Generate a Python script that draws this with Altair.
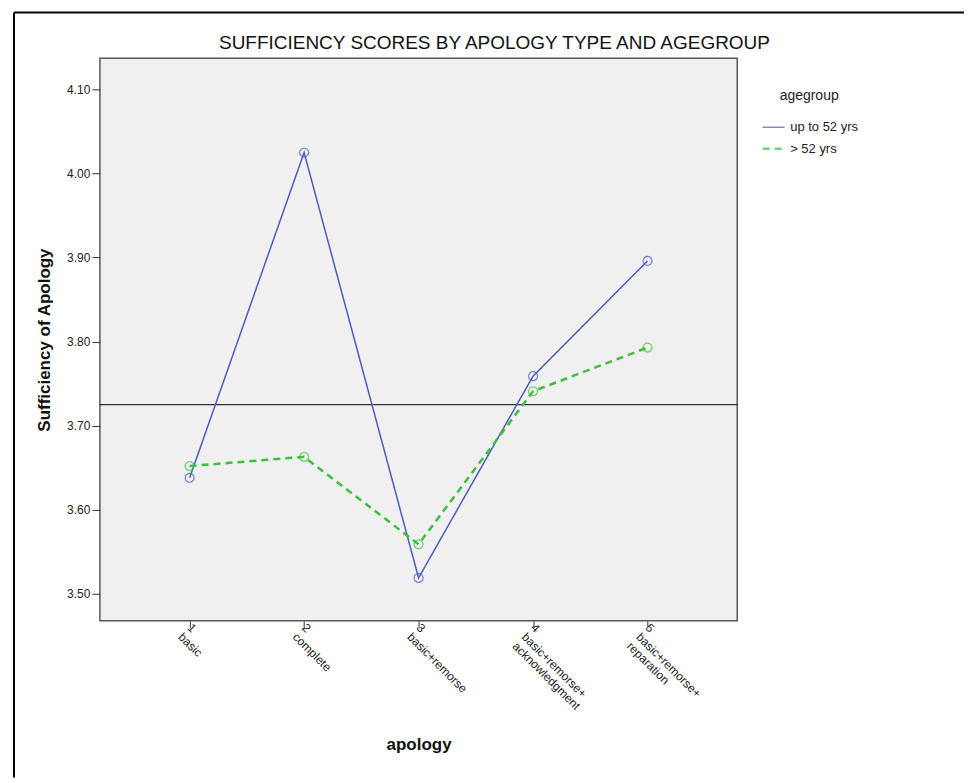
import altair as alt
import pandas as pd

categories = ["1|basic", "2|complete", "3|basic+remorse",
              "4|basic+remorse+|acknowledgment", "5|basic+remorse+|reparation"]
groups = ["up to 52 yrs", "> 52 yrs"]
up_to_52 = [3.638, 4.025, 3.519, 3.759, 3.896]
over_52 = [3.652, 3.663, 3.559, 3.741, 3.793]
grand_mean = 3.725
y_ticks = [3.5, 3.6, 3.7, 3.8, 3.9, 4.0, 4.1]

rows = []
for g, vals in zip(groups, [up_to_52, over_52]):
    for c, v in zip(categories, vals):
        rows.append({"apology": c, "agegroup": g, "score": v})
df = pd.DataFrame(rows)

FONT = "Liberation Sans"
colors = ["#4a5cc0", "#3dbf3d"]
LEG_TITLE = "agegroup"

x = alt.X("apology:N", sort=categories,
          scale=alt.Scale(padding=0.784),
          axis=alt.Axis(title="apology", labelAngle=45, labelAlign="left",
                        labelBaseline="top", labelExpr="split(datum.label, '|')",
                        labelFontSize=12, labelColor="#222", labelLineHeight=13,
                        tickSize=7, tickColor="#333", labelPadding=-6, labelOffset=3,
                        labelOverlap=False, labelBound=False, labelLimit=300,
                        domain=False, titleFontSize=17, titleFontWeight="bold",
                        titleColor="#111", titleY=129, titleBaseline="alphabetic"))
y = alt.Y("score:Q",
          scale=alt.Scale(domain=[3.468, 4.137], nice=False, zero=False),
          axis=alt.Axis(title="Sufficiency of Apology", values=y_ticks, format=".2f",
                        labelFontSize=12, labelColor="#222", tickSize=8, tickColor="#333",
                        labelPadding=2, domain=False, grid=False,
                        titleFontSize=17, titleFontWeight="bold", titleColor="#111",
                        titlePadding=13))

color = alt.Color("agegroup:N", scale=alt.Scale(domain=groups, range=colors),
                  legend=alt.Legend(title=LEG_TITLE, orient="none",
                                    legendX=662, legendY=31, padding=0,
                                    symbolType="stroke", symbolSize=484,
                                    titleFontSize=14, titleFontWeight="normal",
                                    titleColor="#222", titlePadding=12,
                                    titleAnchor="middle",
                                    labelFontSize=13, labelColor="#222", labelOffset=4,
                                    rowPadding=2))
dash = alt.StrokeDash("agegroup:N", scale=alt.Scale(domain=groups, range=[[1, 0], [7, 5]]),
                      legend=alt.Legend(title=LEG_TITLE))
swidth = alt.StrokeWidth("agegroup:N", scale=alt.Scale(domain=groups, range=[1.5, 2.5]),
                         legend=alt.Legend(title=LEG_TITLE))

base = alt.Chart(df)
lines = base.mark_line().encode(x=x, y=y, color=color, strokeDash=dash, strokeWidth=swidth)
points = base.mark_point(filled=False, shape="circle", size=80, strokeWidth=1.3).encode(
    x=x, y=y, color=alt.Color("agegroup:N", scale=alt.Scale(domain=groups, range=colors)))

mean_rule = alt.Chart(pd.DataFrame({"m": [grand_mean]})).mark_rule(
    color="black", strokeWidth=1).encode(y="m:Q")

frame_v = alt.Chart(pd.DataFrame({"k": [0]})).mark_rule(color="black", strokeWidth=2).encode(
    x=alt.value(-86), y=alt.value(-46), y2=alt.value(720))
frame_h = alt.Chart(pd.DataFrame({"k": [0]})).mark_rule(color="black", strokeWidth=2).encode(
    y=alt.value(-46), x=alt.value(-86), x2=alt.value(865))

chart = alt.layer(mean_rule, lines, points, frame_v, frame_h).properties(
    width=638, height=563,
    padding={"left": 5, "top": 3, "right": 0, "bottom": 0},
    title=alt.TitleParams("SUFFICIENCY SCORES BY APOLOGY TYPE AND AGEGROUP",
                          fontSize=19, fontWeight="normal", color="#111", font=FONT,
                          anchor="middle", dx=76, offset=-57, baseline="alphabetic"),
).configure(font=FONT).configure_view(
    fill="#f0f0f0", stroke="#595959", strokeWidth=1.5
)

chart.save("out.html", embed_options={"renderer": "svg", "actions": False})
